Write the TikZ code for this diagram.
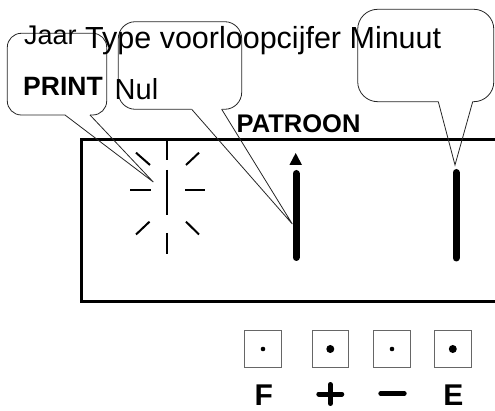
\documentclass[tikz,border=0pt]{standalone}
\usepackage{fontspec}
\setmainfont{Liberation Sans}
\begin{document}
\begin{tikzpicture}[x=1pt,y=-1pt,
  callout/.style={line width=0.8pt, draw=black!85},
  spoke/.style={line width=2pt},
  segbar/.style={line width=7pt, line cap=round},
  frame/.style={line width=3pt},
  keybox/.style={draw=black!60, line width=1pt, minimum size=36.5pt, inner sep=0pt},
  txt/.style={anchor=base west, inner sep=0pt},
  keylbl/.style={anchor=base, inner sep=0pt, font=\bfseries\fontsize{30}{30}\selectfont},
  keystroke/.style={line width=5pt, line cap=round}]
\useasboundingbox (0,0) rectangle (495,411);
\clip (0,0) rectangle (495,411);

% display frame
\draw[frame] (500,139.5) -- (81,139.5) -- (81,302) -- (500,302);

% blinking digit
\draw[spoke] (167.3,141) -- (167.3,160);
\draw[spoke] (167.3,170) -- (167.3,215);
\draw[spoke] (167.3,233) -- (167.3,254);
\draw[spoke] (130,190) -- (150.5,190);
\draw[spoke] (185,190) -- (205,190);
\draw[spoke] (136,152.7) -- (150,165);
\draw[spoke] (186,165) -- (199,152.7);
\draw[spoke] (136,234.5) -- (149.5,221.7);
\draw[spoke] (186,221.7) -- (199,234.5);

% bars
\draw[segbar] (296,173.5) coordinate (bar1top) -- (296,257.5) coordinate (bar1bot);
\draw[segbar] (456,172.5) coordinate (bar2top) -- (456,258) coordinate (bar2bot);
\fill (295.7,153) -- (302,165) -- (289.4,165) -- cycle;

% callout tips
\coordinate (tipA) at (153.3,182);
\coordinate (tipB) at (292.3,224);
\coordinate (tipC) at (455,165);

% callout 1
\coordinate (c1a) at (65,115);
\coordinate (c1b) at (90,115);
\draw[callout, rounded corners=14pt] (c1a) -- (7.3,115) -- (7.3,33.3) -- (106.7,33.3) -- (106.7,115) -- (c1b);
\draw[callout] (c1a) -- (tipA) -- (c1b);

% callout 2
\coordinate (c2a) at (191.7,109.3);
\coordinate (c2b) at (221.7,109.3);
\draw[callout, rounded corners=17pt] (c2a) -- (118.3,109.3) -- (118.3,21.7) -- (241.7,21.7) -- (241.7,109.3) -- (c2b);
\draw[callout] (c2a) -- (tipB) -- (c2b);

% callout 3
\coordinate (c3a) at (438.3,101.7);
\coordinate (c3b) at (472.7,101.7);
\draw[callout, rounded corners=20pt] (c3a) -- (357.7,101.7) -- (357.7,9.3) -- (493.8,9.3) -- (493.8,101.7) -- (c3b);
\draw[callout] (c3a) -- (tipC) -- (c3b);

% texts
\node[txt, font=\fontsize{27}{27}\selectfont] (jaar) at (24,45) {Jaar};
\node[txt, font=\fontsize{30.5}{30}\selectfont] (type) at (85,49) {Type voorloopcijfer Minuut};
\node[txt, font=\bfseries\fontsize{26.5}{26.5}\selectfont] (print) at (23,96) {PRINT};
\node[txt, font=\fontsize{29}{29}\selectfont] (nul) at (114.5,100) {Nul};
\node[txt, font=\bfseries\fontsize{25.5}{25.5}\selectfont] (patroon) at (236.5,133) {PATROON};

% keys
\node[keybox] (k1) at (263,349) {};
\node[keybox] (k2) at (330.3,349) {};
\node[keybox] (k3) at (392,349) {};
\node[keybox] (k4) at (452.8,349) {};
\fill (k1.center) circle (2.3pt);
\fill (k2.center) circle (4pt);
\fill (k3.center) circle (2.3pt);
\fill (k4.center) circle (4pt);

\node[keylbl] (lblF) at (263.7,405) {F};
\node[keylbl] (lblE) at (453.3,405) {E};
% plus and minus key symbols
\coordinate (plusC) at (330.3,394);
\draw[keystroke] ([xshift=-11.5pt]plusC) -- ([xshift=11.5pt]plusC);
\draw[keystroke] ([yshift=-9.5pt]plusC) -- ([yshift=9.5pt]plusC);
\coordinate (minusC) at (392.5,393.5);
\draw[keystroke] ([xshift=-11.7pt]minusC) -- ([xshift=11.7pt]minusC);
\end{tikzpicture}
\end{document}
